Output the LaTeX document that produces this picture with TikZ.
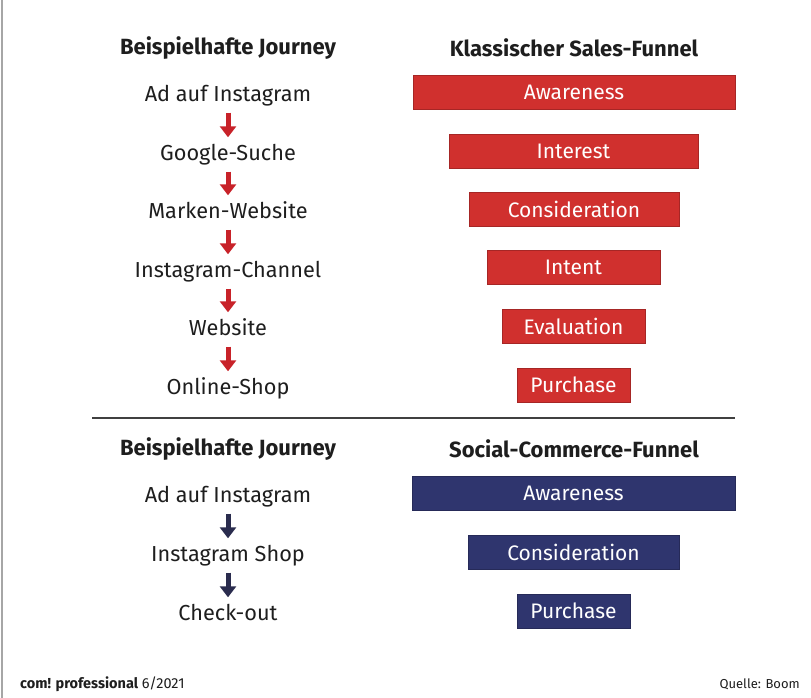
\documentclass[tikz,border=0pt]{standalone}
\usepackage{fontspec}
\setmainfont{Fira Sans}
\usetikzlibrary{arrows.meta}
\definecolor{funnelred}{HTML}{D0302E}
\definecolor{funnelblue}{HTML}{2F356E}
\definecolor{arrowred}{HTML}{C82229}
\definecolor{arrowblue}{HTML}{2A2C4E}
\definecolor{inkgray}{HTML}{1E1E1E}
\tikzset{
  heading/.style={font=\fontsize{22}{26}\selectfont\bfseries, text=inkgray, inner sep=0pt},
  stage/.style={font=\fontsize{21.7}{26}\selectfont, text=inkgray, inner sep=0pt,
                text height=15pt, text depth=4pt},
  bar/.style={minimum height=34pt, inner sep=0pt, text=white,
              font=\fontsize{21}{25}\selectfont},
  redbar/.style={bar, fill=funnelred, draw=funnelred!80!black, line width=0.6pt},
  bluebar/.style={bar, fill=funnelblue, draw=funnelblue!80!black, line width=0.6pt},
  fatarrow/.style={line width=5pt, -{Triangle[width=16pt,length=11pt]},
                   shorten <=7pt, shorten >=8pt},
  redarrow/.style={fatarrow, draw=arrowred},
  bluearrow/.style={fatarrow, draw=arrowblue},
  footer/.style={font=\fontsize{13}{15}\selectfont, text=inkgray, inner sep=0pt}
}
\begin{document}
\begin{tikzpicture}[x=1pt,y=-1pt]
  \useasboundingbox (0,0) rectangle (811,698);
  \fill[white] (0,0) rectangle (811,698);
  % page edge
  \draw[gray!70, line width=1.5pt] (2,0) -- (2,698);

  % ---- classic funnel ----
  \node[heading] (hj1) at (228,48) {Beispielhafte Journey};
  \node[heading] (hf1) at (574,48) {Klassischer Sales-Funnel};

  \node[stage] (j1) at (228,96)  {Ad auf Instagram};
  \node[stage] (j2) at (228,155) {Google-Suche};
  \node[stage] (j3) at (228,213) {Marken-Website};
  \node[stage] (j4) at (228,272) {Instagram-Channel};
  \node[stage] (j5) at (228,330) {Website};
  \node[stage] (j6) at (228,389) {Online-Shop};

  \draw[redarrow] (j1) -- (j2);
  \draw[redarrow] (j2) -- (j3);
  \draw[redarrow] (j3) -- (j4);
  \draw[redarrow] (j4) -- (j5);
  \draw[redarrow] (j5) -- (j6);

  \node[redbar, minimum width=322pt] (f1) at (574,92)  {Awareness};
  \node[redbar, minimum width=249pt] (f2) at (573.5,151) {Interest};
  \node[redbar, minimum width=210pt] (f3) at (574,209.5) {Consideration};
  \node[redbar, minimum width=173pt] (f4) at (573.5,267.5) {Intent};
  \node[redbar, minimum width=143pt] (f5) at (573.5,326) {Evaluation};
  \node[redbar, minimum width=113pt] (f6) at (573.5,385) {Purchase};

  % divider
  \coordinate (dl) at (92,418);
  \coordinate (dr) at (735,418);
  \draw[gray!50!black, line width=1.2pt] (dl) -- (dr);

  % ---- social commerce funnel ----
  \node[heading] (hj2) at (228,449) {Beispielhafte Journey};
  \node[heading] (hf2) at (574,449) {Social-Commerce-Funnel};

  \node[stage] (s1) at (228,497) {Ad auf Instagram};
  \node[stage] (s2) at (228,556) {Instagram Shop};
  \node[stage] (s3) at (228,615) {Check-out};

  \draw[bluearrow] (s1) -- (s2);
  \draw[bluearrow] (s2) -- (s3);

  \node[bluebar, minimum width=323pt] (b1) at (573.5,493.5) {Awareness};
  \node[bluebar, minimum width=211pt] (b2) at (573.5,552.5) {Consideration};
  \node[bluebar, minimum width=113pt] (b3) at (573.5,611) {Purchase};

  % footer
  \node[footer, anchor=base west] (src) at (20,688)
    {\fontsize{14.5}{16}\selectfont\textbf{com! professional} 6/2021};
  \node[footer, anchor=base east] (cred) at (800,688) {Quelle: Boom};
\end{tikzpicture}
\end{document}
